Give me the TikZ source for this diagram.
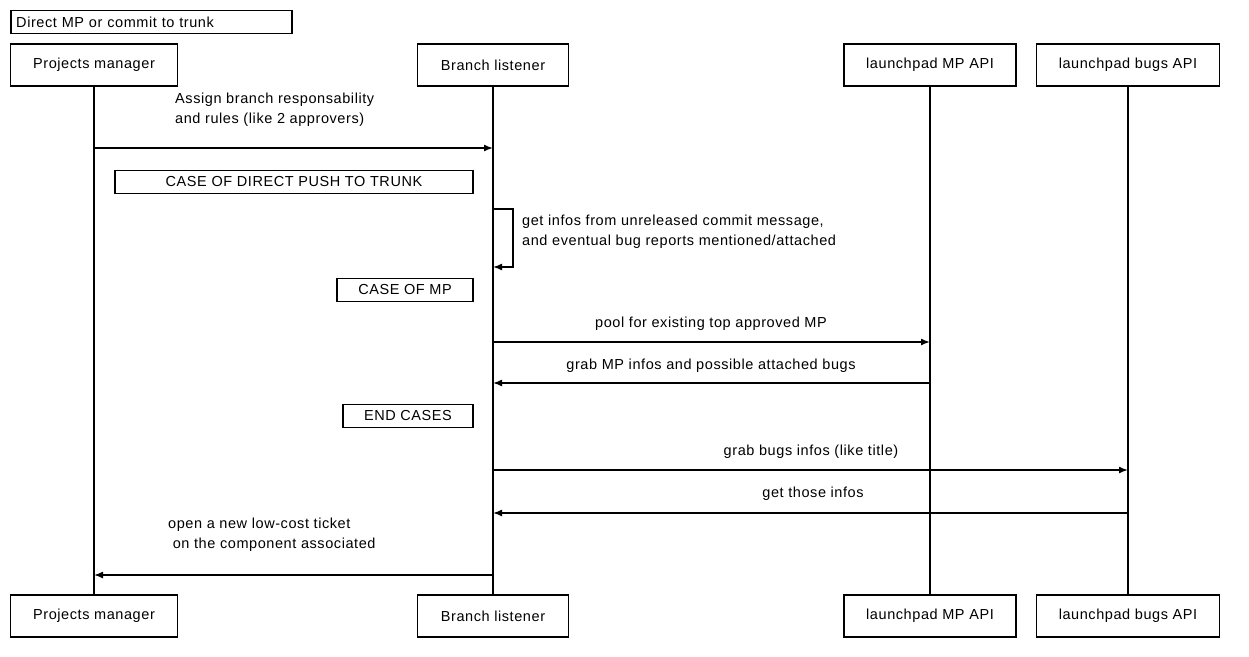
\documentclass[tikz,border=0pt]{standalone}
\usepackage{fontspec}
\setmainfont[LetterSpace=4]{Liberation Sans}
\usetikzlibrary{arrows.meta}
\begin{document}
\begin{tikzpicture}[x=1pt,y=-1pt,
  every node/.style={font=\fontsize{14.5}{20}\selectfont},
  part/.style={draw,line width=1.5,fill=white,minimum height=42,inner sep=4},
  note/.style={draw,line width=1.5,fill=white,minimum height=23,inner sep=3},
  life/.style={line width=1.5},
  msg/.style={line width=1.5,-{Latex[length=9,width=7]}},
  lbl/.style={align=left,inner sep=0}]
\useasboundingbox (0,0) rectangle (1249,656);
% lifelines
\coordinate (p1) at (94,86); \coordinate (p2) at (94,596);
\coordinate (b1) at (493,86); \coordinate (b2) at (493,596);
\coordinate (m1) at (930,86); \coordinate (m2) at (930,596);
\coordinate (u1) at (1128,86); \coordinate (u2) at (1128,596);
\draw[life] (p1) -- (p2); \draw[life] (b1) -- (b2);
\draw[life] (m1) -- (m2); \draw[life] (u1) -- (u2);
% participants
\node[part,minimum width=167] (pt) at (94,65) {Projects manager};
\node[part,minimum width=151] (bt) at (493,65) {Branch listener};
\node[part,minimum width=172] (mt) at (930,65) {launchpad MP API};
\node[part,minimum width=183] (ut) at (1128,65) {launchpad bugs API};
\node[part,minimum width=167] (pb) at (94,616) {Projects manager};
\node[part,minimum width=151] (bb) at (493,616) {Branch listener};
\node[part,minimum width=172] (mb) at (930,616) {launchpad MP API};
\node[part,minimum width=183] (ub) at (1128,616) {launchpad bugs API};
% title
\node[note,minimum width=281,anchor=west,text width=270,align=left] (title) at (10,22) {Direct MP or commit to trunk};
% messages
\coordinate (a1) at (94,148); \coordinate (a2) at (493,148);
\draw[msg] (a1) -- (a2);
\node[lbl,anchor=west] (l1) at (175,110) {Assign branch responsability\\and rules (like 2 approvers)};
\node[note,minimum width=358] (c1) at (294,182) {CASE OF DIRECT PUSH TO TRUNK};
\coordinate (s1) at (493,209); \coordinate (s2) at (513,209);
\coordinate (s3) at (513,267); \coordinate (s4) at (493,267);
\draw[msg] (s1) -- (s2) -- (s3) -- (s4);
\node[lbl,anchor=west] (l2) at (522,232) {get infos from unreleased commit message,\\and eventual bug reports mentioned/attached};
\node[note,minimum width=136] (c2) at (405,290) {CASE OF MP};
\coordinate (x1) at (493,342); \coordinate (x2) at (930,342);
\draw[msg] (x1) -- (x2);
\node[lbl] (l3) at (711,324) {pool for existing top approved MP};
\coordinate (y1) at (930,383); \coordinate (y2) at (493,383);
\draw[msg] (y1) -- (y2);
\node[lbl] (l4) at (711,366) {grab MP infos and possible attached bugs};
\node[note,minimum width=130] (c3) at (408,416) {END CASES};
\coordinate (z1) at (493,470); \coordinate (z2) at (1128,470);
\draw[msg] (z1) -- (z2);
\node[lbl] (l5) at (811,452) {grab bugs infos (like title)};
\coordinate (w1) at (1128,513); \coordinate (w2) at (493,513);
\draw[msg] (w1) -- (w2);
\node[lbl] (l6) at (813,494) {get those infos};
\coordinate (v1) at (493,575); \coordinate (v2) at (94,575);
\draw[msg] (v1) -- (v2);
\node[lbl,anchor=west] (l7) at (168,535) {open a new low-cost ticket\\\ on the component associated};
\end{tikzpicture}
\end{document}
